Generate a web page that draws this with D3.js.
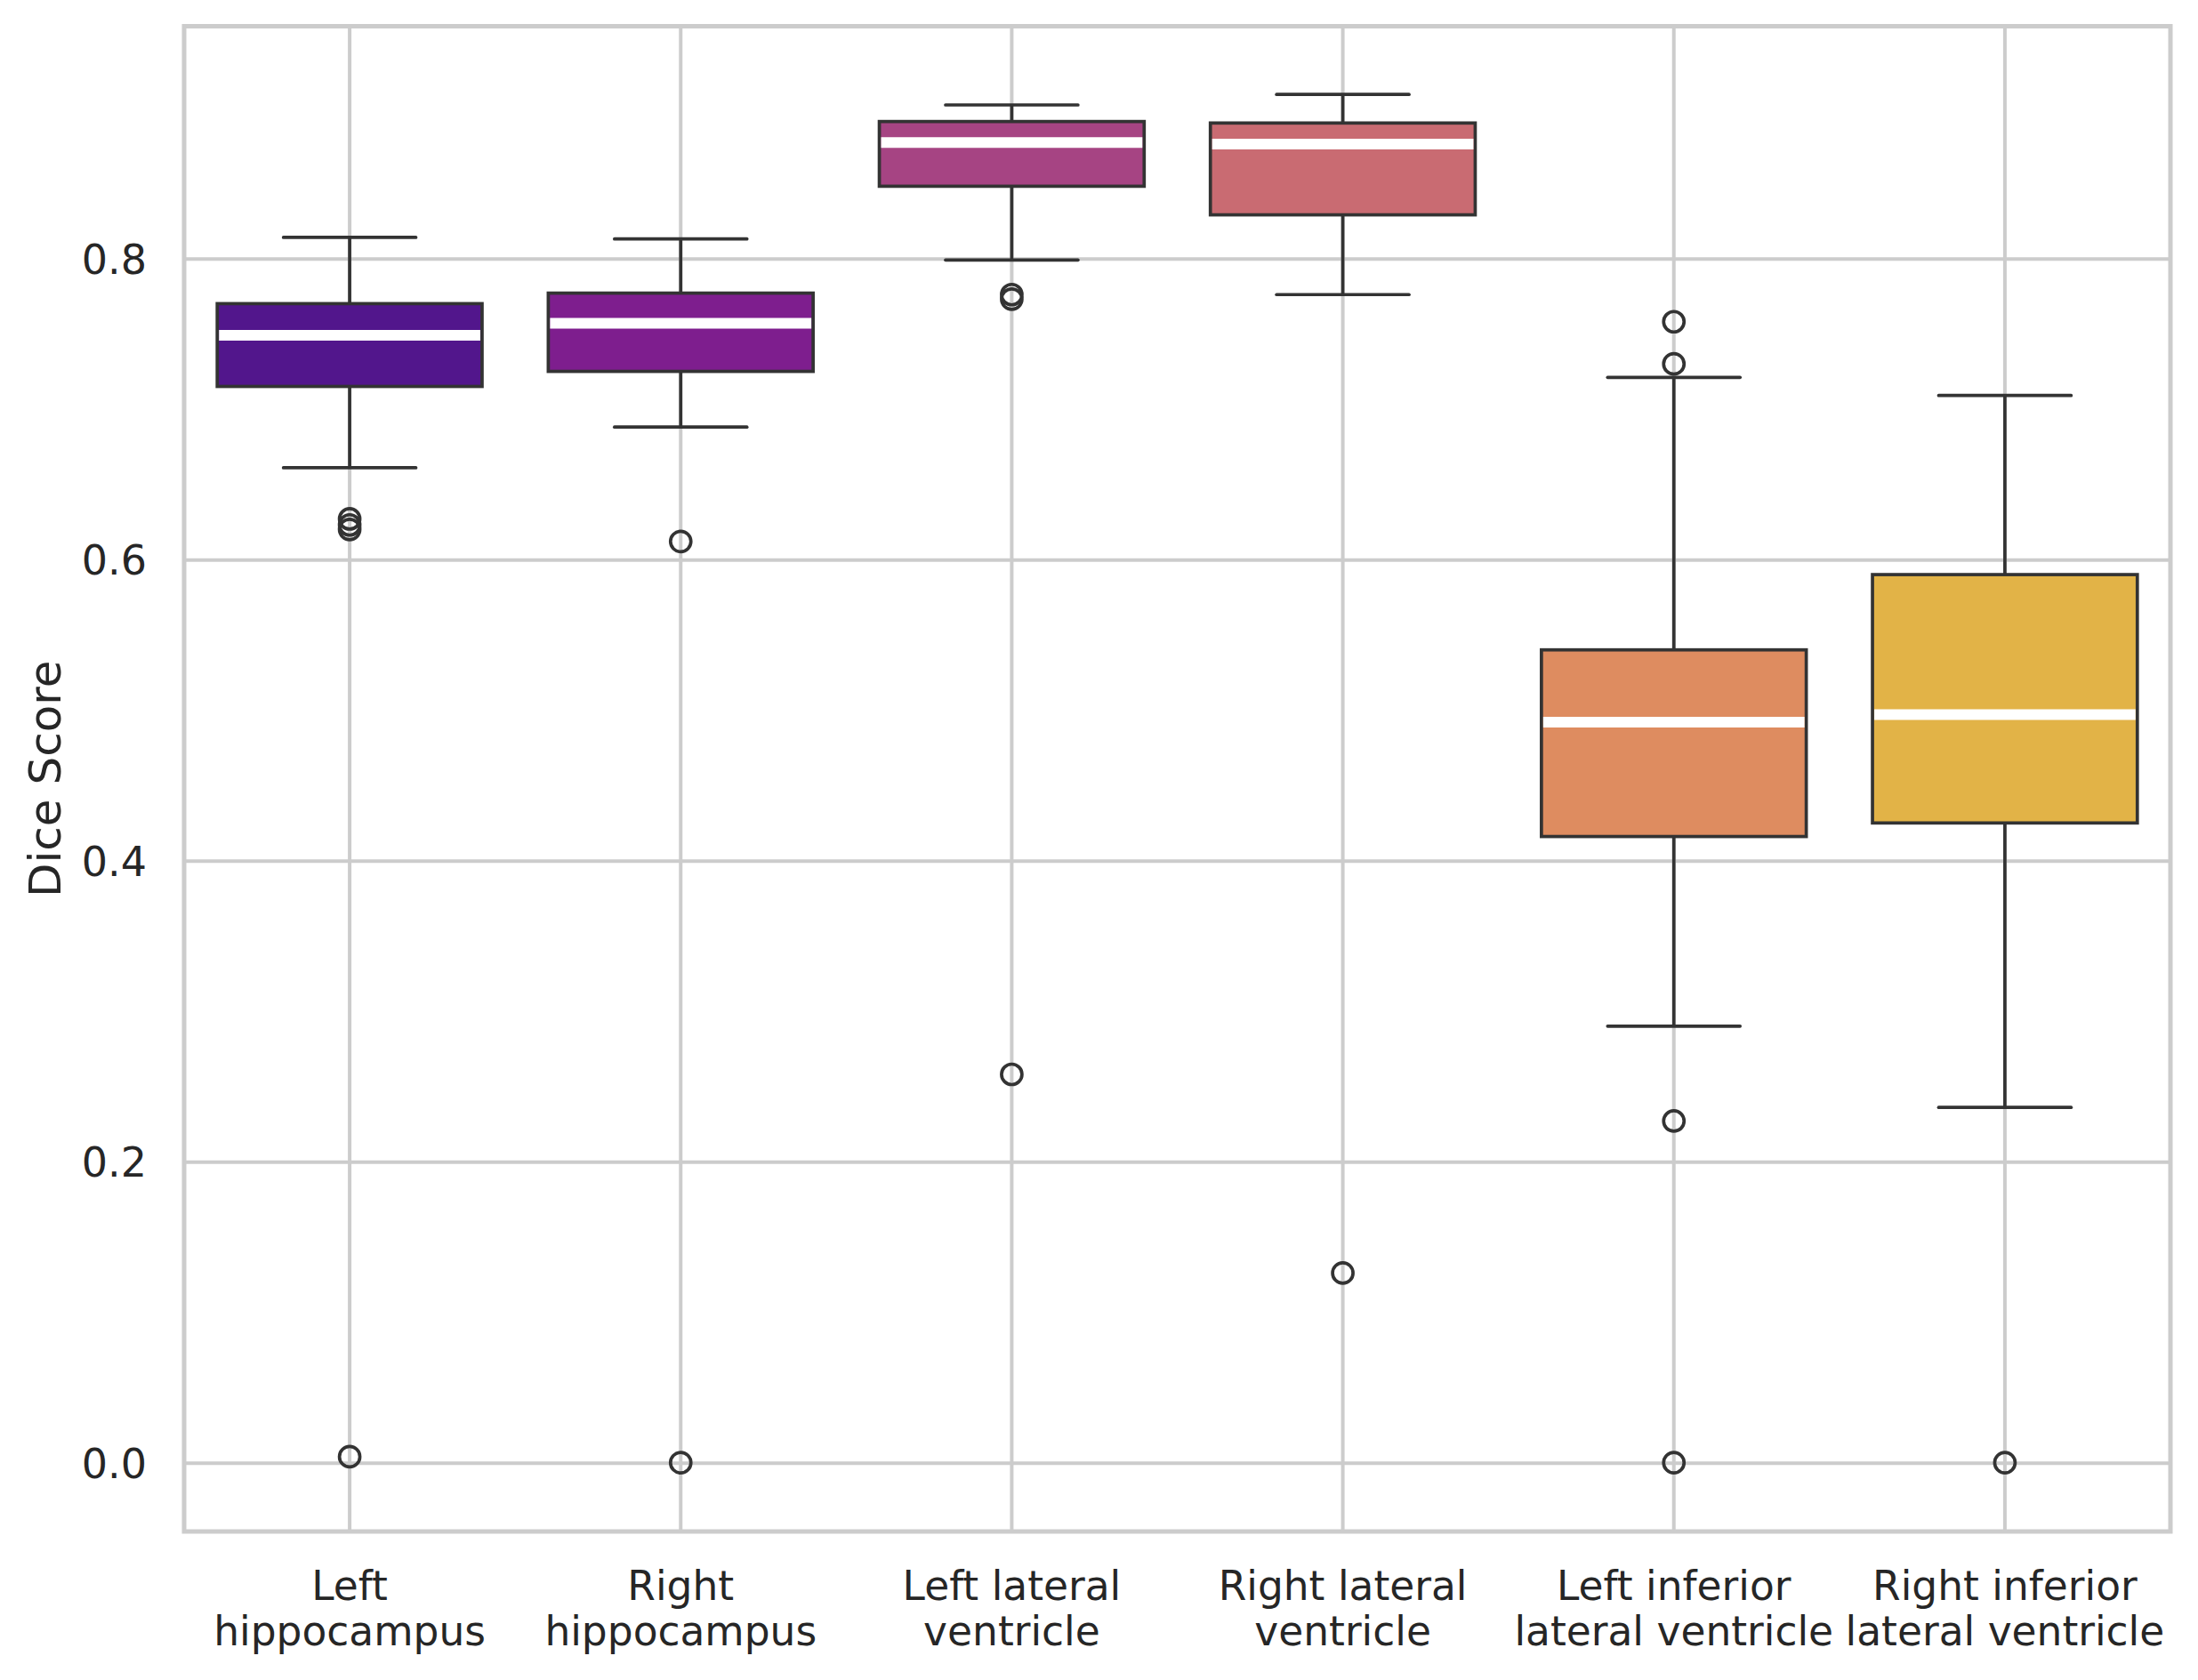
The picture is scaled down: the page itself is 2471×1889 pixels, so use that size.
<!DOCTYPE html>
<html>
	<head>
		<meta charset="utf-8">
		<title>Dice Score</title>
		<style type="text/css">
			*{padding:0;margin:0;}
			body {background-color:white;overflow:hidden;}
			svg { display:block; font-family:"DejaVu Sans", sans-serif; }
		</style>
		<script src="https://d3js.org/d3.v7.min.js" charset="utf-8"></script>
	</head>
	<body>
		<svg id="chart" width="2471" height="1889" xmlns="http://www.w3.org/2000/svg"></svg>
		<script type="text/javascript">
			// data
			var categories=["Left hippocampus", "Right hippocampus", "Left lateral ventricle", "Right lateral ventricle", "Left inferior lateral ventricle", "Right inferior lateral ventricle"];
			var tickLines=[["Left", "hippocampus"], ["Right", "hippocampus"], ["Left lateral", "ventricle"], ["Right lateral", "ventricle"], ["Left inferior", "lateral ventricle"], ["Right inferior", "lateral ventricle"]];
			var whiskerLow=[0.661, 0.688, 0.799, 0.776, 0.290, 0.236];
			var q1Values=[0.715, 0.725, 0.848, 0.829, 0.416, 0.425];
			var medianValues=[0.749, 0.757, 0.877, 0.876, 0.492, 0.497];
			var q3Values=[0.770, 0.777, 0.891, 0.890, 0.540, 0.590];
			var whiskerHigh=[0.814, 0.813, 0.902, 0.909, 0.721, 0.709];
			var outliers=[[0.627, 0.623, 0.620, 0.004], [0.612, 0.0], [0.776, 0.773, 0.258], [0.126], [0.758, 0.730, 0.227, 0.0], [0.0]];
			var yTicks=[0.0, 0.2, 0.4, 0.6, 0.8];
			var palette=["#52168c", "#7e1e8e", "#a64483", "#c96b72", "#de8c60", "#e2b347"];

			var plotLeft=207, plotRight=2440, plotTop=29.5, plotBottom=1722;
			var svg=d3.select("#chart");

			var x=d3.scaleBand().domain(categories).range([plotLeft, plotRight]).paddingInner(0).paddingOuter(0);
			var y=d3.scaleLinear().domain([-0.0457, 0.9543]).range([plotBottom, plotTop]);
			var boxW=x.bandwidth()*0.8;
			var capW=boxW/2;

			//grid lines
			var yAxis=d3.axisLeft(y).tickValues(yTicks).tickFormat(d3.format(".1f")).tickSize(-(plotRight-plotLeft)).tickPadding(42);
			var gy=svg.append("g").attr("transform", "translate("+plotLeft+",0)").call(yAxis);
			gy.select(".domain").remove();
			gy.selectAll(".tick line").attr("stroke", "#cccccc").attr("stroke-width", 4);
			gy.selectAll(".tick text").attr("fill", "#262626").attr("font-size", "46px").attr("font-family", "DejaVu Sans").attr("dy", "0.36em");

			var xAxis=d3.axisBottom(x).tickSize(-(plotBottom-plotTop)).tickFormat("");
			var gx=svg.append("g").attr("transform", "translate(0,"+plotBottom+")").call(xAxis);
			gx.select(".domain").remove();
			gx.selectAll(".tick line").attr("stroke", "#cccccc").attr("stroke-width", 4);
			gx.selectAll(".tick").each(function(d, i){
				var t=d3.select(this).append("text")
					.attr("fill", "#262626")
					.attr("font-size", "45.5px")
					.attr("font-family", "DejaVu Sans")
					.attr("text-anchor", "middle");
				tickLines[i].forEach(function(line, j){
					t.append("tspan").attr("x", 0).attr("y", 77+j*51).text(line);
				});
			});

			//boxes
			var boxes=svg.append("g");
			categories.forEach(function(c, i){
				var cx=x(c)+x.bandwidth()/2;
				var g=boxes.append("g");
				g.append("line").attr("x1", cx).attr("x2", cx).attr("y1", y(q3Values[i])).attr("y2", y(whiskerHigh[i]))
					.attr("stroke", "#333333").attr("stroke-width", 3.7);
				g.append("line").attr("x1", cx).attr("x2", cx).attr("y1", y(q1Values[i])).attr("y2", y(whiskerLow[i]))
					.attr("stroke", "#333333").attr("stroke-width", 3.7);
				[whiskerHigh[i], whiskerLow[i]].forEach(function(v){
					g.append("line").attr("x1", cx-capW/2).attr("x2", cx+capW/2).attr("y1", y(v)).attr("y2", y(v))
						.attr("stroke", "#333333").attr("stroke-width", 3.7).attr("stroke-linecap", "round");
				});
				g.append("rect").attr("x", cx-boxW/2).attr("width", boxW)
					.attr("y", y(q3Values[i])).attr("height", y(q1Values[i])-y(q3Values[i]))
					.attr("fill", palette[i]).attr("stroke", "#333333").attr("stroke-width", 3.7);
				g.append("line").attr("x1", cx-boxW/2+2).attr("x2", cx+boxW/2-2).attr("y1", y(medianValues[i])).attr("y2", y(medianValues[i]))
					.attr("stroke", "white").attr("stroke-width", 12);
				g.selectAll("circle.flier").data(outliers[i]).enter().append("circle")
					.attr("class", "flier")
					.attr("cx", cx).attr("cy", function(d){ return y(d); })
					.attr("r", 11.5)
					.attr("fill", "none").attr("stroke", "#333333").attr("stroke-width", 3.7);
			});

			//frame
			svg.append("rect").attr("x", plotLeft).attr("y", plotTop).attr("width", plotRight-plotLeft).attr("height", plotBottom-plotTop)
				.attr("fill", "none").attr("stroke", "#cccccc").attr("stroke-width", 5);

			//y label
			svg.append("text").attr("transform", "translate(68,"+((plotTop+plotBottom)/2)+") rotate(-90)")
				.attr("text-anchor", "middle").attr("fill", "#262626").attr("font-size", "50px").attr("font-family", "DejaVu Sans")
				.text("Dice Score");
		</script>
	</body>
</html>
